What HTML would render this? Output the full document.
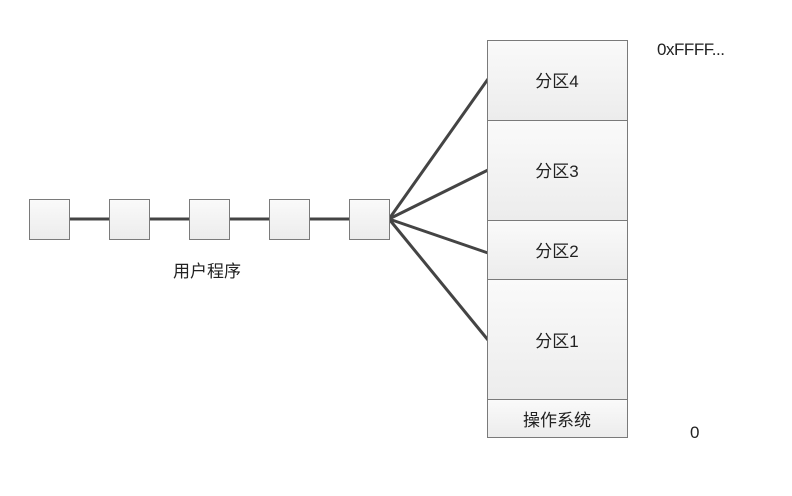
<!DOCTYPE html>
<html><head><meta charset="utf-8"><style>
body{margin:0;background:#fff;}
svg text{font-family:"Liberation Sans","Noto Sans CJK SC",sans-serif;fill:#222;}
</style></head><body>
<svg width="792" height="491" viewBox="0 0 792 491" xmlns="http://www.w3.org/2000/svg">
<defs><linearGradient id="g" x1="0" y1="0" x2="0" y2="1"><stop offset="0" stop-color="#fafafa"/><stop offset="1" stop-color="#ececec"/></linearGradient></defs>
<g stroke="#444" stroke-width="3" fill="none">
<line x1="69" y1="219" x2="109" y2="219"/><line x1="149" y1="219" x2="189" y2="219"/>
<line x1="229" y1="219" x2="269" y2="219"/><line x1="309" y1="219" x2="349" y2="219"/>
<line x1="389" y1="219" x2="488" y2="79"/><line x1="389" y1="219" x2="488" y2="170"/>
<line x1="389" y1="219" x2="488" y2="253"/><line x1="389" y1="219" x2="488" y2="340"/>
</g>
<g fill="url(#g)" stroke="#7a7a7a" stroke-width="1">
<rect x="29.5" y="199.5" width="40" height="40"/><rect x="109.5" y="199.5" width="40" height="40"/>
<rect x="189.5" y="199.5" width="40" height="40"/><rect x="269.5" y="199.5" width="40" height="40"/>
<rect x="349.5" y="199.5" width="40" height="40"/>
<rect x="487.5" y="40.5" width="140" height="80"/><rect x="487.5" y="120.5" width="140" height="100"/>
<rect x="487.5" y="220.5" width="140" height="59"/><rect x="487.5" y="279.5" width="140" height="120"/>
<rect x="487.5" y="399.5" width="140" height="38"/>
</g>
<g font-size="17" text-anchor="middle">
<text x="557" y="87">分区4</text><text x="557" y="177">分区3</text>
<text x="557" y="257">分区2</text><text x="557" y="347">分区1</text>
<text x="557" y="426">操作系统</text>
<text x="207" y="277">用户程序</text>
</g>
<text x="657" y="55" font-size="17" textLength="68">0xFFFF...</text>
<text x="690" y="438" font-size="17">0</text>
</svg>
</body></html>
